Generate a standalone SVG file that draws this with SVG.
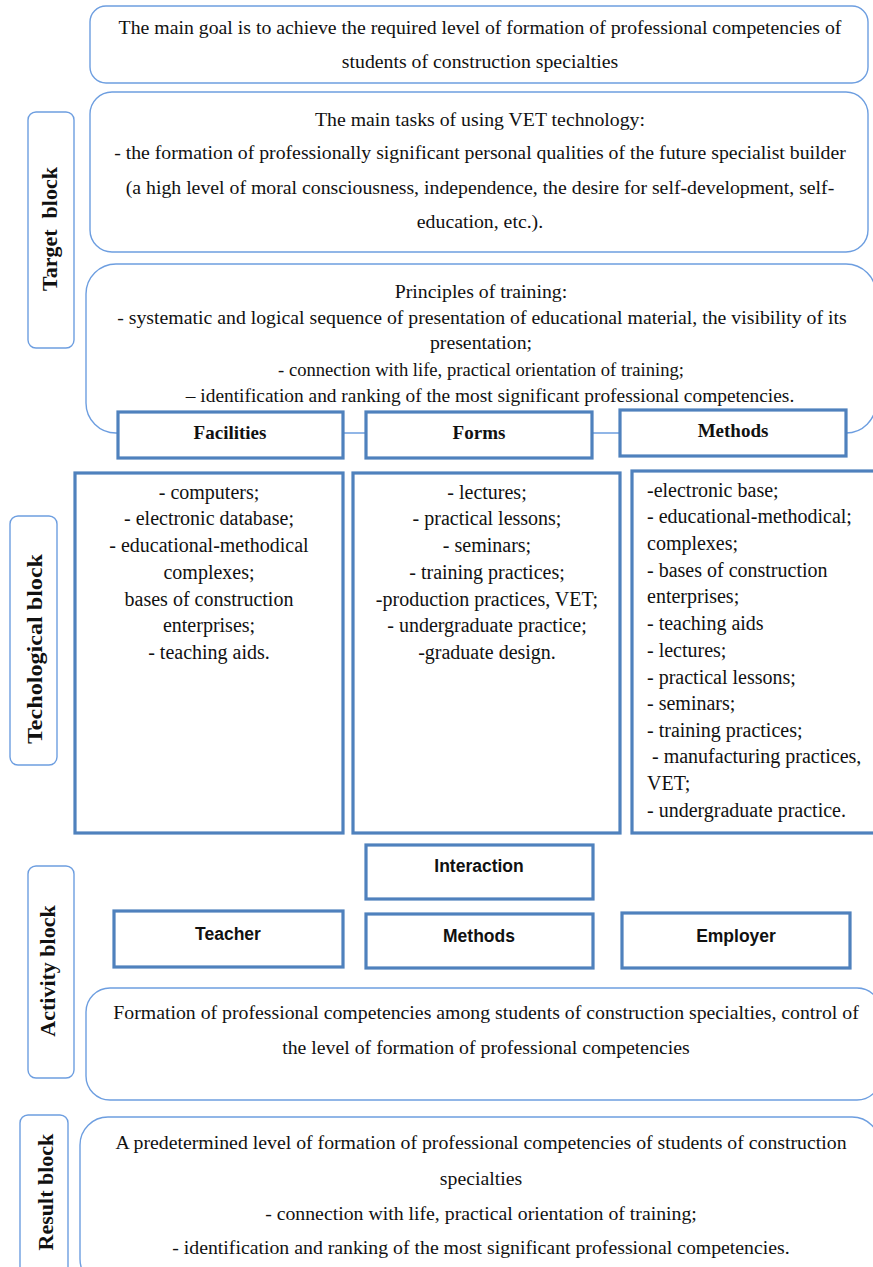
<svg xmlns="http://www.w3.org/2000/svg" width="873" height="1267" viewBox="0 0 873 1267">
<style>
.rb{fill:#fff;stroke:#6d9ee0;stroke-width:1.4}
.sq{fill:#fff;stroke:#4f81bd;stroke-width:3.2}
.t{font-family:"Liberation Serif","Times New Roman",serif;font-size:19.8px;fill:#111;text-anchor:middle}
.tl{font-family:"Liberation Serif","Times New Roman",serif;font-size:20px;fill:#111}
.hb{font-family:"Liberation Serif","Times New Roman",serif;font-weight:bold;font-size:19px;fill:#111;text-anchor:middle}
.hs{font-family:"Liberation Sans",Arial,sans-serif;font-weight:bold;font-size:17.5px;fill:#111;text-anchor:middle}
.vl{font-family:"Liberation Serif","Times New Roman",serif;font-weight:bold;font-size:22px;fill:#111;text-anchor:middle}
</style>
<rect width="873" height="1267" fill="#fff"/>

<g id="goal">
<rect class="rb" x="90" y="6" width="778" height="77" rx="16"/>
<text class="t" x="480" y="34">The main goal is to achieve the required level of formation of professional competencies of</text>
<text class="t" x="480" y="68">students of construction specialties</text>
</g>

<g id="target-label">
<rect class="rb" x="28" y="112" width="46" height="236" rx="8"/>
<text class="vl" transform="translate(57,229) rotate(-90)" xml:space="preserve">Target  block</text>
</g>

<g id="tasks">
<rect class="rb" x="90" y="92" width="778" height="160" rx="22"/>
<text class="t" x="480" y="126">The main tasks of using VET technology:</text>
<text class="t" x="480" y="159">- the formation of professionally significant personal qualities of the future specialist builder</text>
<text class="t" x="480" y="194">(a high level of moral consciousness, independence, the desire for self-development, self-</text>
<text class="t" x="480" y="228">education, etc.).</text>
</g>

<g id="principles">
<rect class="rb" x="86" y="264" width="790" height="169" rx="30"/>
<text class="t" x="481" y="298">Principles of training:</text>
<text class="t" x="482" y="324">- systematic and logical sequence of presentation of educational material, the visibility of its</text>
<text class="t" x="481" y="349">presentation;</text>
<text class="t" x="481" y="376" style="font-size:18.6px">- connection with life, practical orientation of training;</text>
<text class="t" x="490" y="402" style="font-size:19.4px">– identification and ranking of the most significant professional competencies.</text>
</g>

<g id="facilities-head">
<rect class="sq" x="118" y="412" width="225" height="46"/>
<text class="hb" x="230" y="439">Facilities</text>
</g>
<g id="forms-head">
<rect class="sq" x="366" y="412" width="226" height="46"/>
<text class="hb" x="479" y="439">Forms</text>
</g>
<g id="methods-head">
<rect class="sq" x="620" y="410" width="226" height="46"/>
<text class="hb" x="733" y="437">Methods</text>
</g>

<g id="tech-label">
<rect class="rb" x="10" y="516" width="47" height="249" rx="8"/>
<text class="vl" transform="translate(42,649) rotate(-90)" textLength="190" lengthAdjust="spacingAndGlyphs">Techological block</text>
</g>

<g id="facilities-list">
<rect class="sq" x="75" y="473" width="268" height="360"/>
<g class="t" style="font-size:20px">
<text x="209" y="499">- computers;</text>
<text x="209" y="525">- electronic database;</text>
<text x="209" y="552">- educational-methodical</text>
<text x="209" y="579">complexes;</text>
<text x="209" y="606">bases of construction</text>
<text x="209" y="632">enterprises;</text>
<text x="209" y="659">- teaching aids.</text>
</g>
</g>

<g id="forms-list">
<rect class="sq" x="353" y="473" width="267" height="360"/>
<g class="t" style="font-size:20px">
<text x="487" y="499">- lectures;</text>
<text x="487" y="525">- practical lessons;</text>
<text x="487" y="552">- seminars;</text>
<text x="487" y="579">- training practices;</text>
<text x="487" y="606">-production practices, VET;</text>
<text x="487" y="632">- undergraduate practice;</text>
<text x="487" y="659">-graduate design.</text>
</g>
</g>

<g id="methods-list">
<rect class="sq" x="632" y="471" width="245" height="362"/>
<g class="tl">
<text x="647" y="497">-electronic base;</text>
<text x="647" y="523">- educational-methodical;</text>
<text x="647" y="550">complexes;</text>
<text x="647" y="577">- bases of construction</text>
<text x="647" y="603">enterprises;</text>
<text x="647" y="630">- teaching aids</text>
<text x="647" y="657">- lectures;</text>
<text x="647" y="684">- practical lessons;</text>
<text x="647" y="710">- seminars;</text>
<text x="647" y="737">- training practices;</text>
<text x="647" y="763" xml:space="preserve"> - manufacturing practices,</text>
<text x="647" y="790">VET;</text>
<text x="647" y="817">- undergraduate practice.</text>
</g>
</g>

<g id="interaction">
<rect class="sq" x="366" y="845" width="227" height="54"/>
<text class="hs" x="479" y="872">Interaction</text>
</g>

<g id="activity-label">
<rect class="rb" x="28" y="866" width="46" height="212" rx="8"/>
<text class="vl" transform="translate(55,971) rotate(-90)">Activity block</text>
</g>

<g id="teacher">
<rect class="sq" x="114" y="911" width="229" height="56"/>
<text class="hs" x="228" y="940">Teacher</text>
</g>
<g id="methods">
<rect class="sq" x="366" y="914" width="227" height="54"/>
<text class="hs" x="479" y="942">Methods</text>
</g>
<g id="employer">
<rect class="sq" x="622" y="913" width="228" height="55"/>
<text class="hs" x="736" y="942">Employer</text>
</g>

<g id="formation">
<rect class="rb" x="86" y="988" width="795" height="112" rx="24"/>
<text class="t" x="486" y="1019">Formation of professional competencies among students of construction specialties, control of</text>
<text class="t" x="486" y="1054">the level of formation of professional competencies</text>
</g>

<g id="result-label">
<rect class="rb" x="20" y="1115" width="48" height="170" rx="8"/>
<text class="vl" transform="translate(53,1192) rotate(-90)">Result block</text>
</g>

<g id="result">
<rect class="rb" x="80" y="1117" width="800" height="170" rx="28"/>
<text class="t" x="481" y="1149">A predetermined level of formation of professional competencies of students of construction</text>
<text class="t" x="481" y="1185">specialties</text>
<text class="t" x="481" y="1220">- connection with life, practical orientation of training;</text>
<text class="t" x="481" y="1254">- identification and ranking of the most significant professional competencies.</text>
</g>

<g id="connectors"></g>
</svg>
